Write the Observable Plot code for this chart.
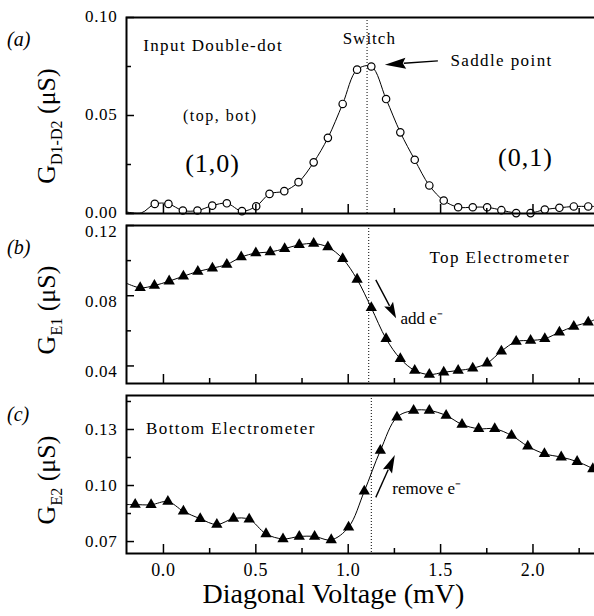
<!DOCTYPE html>
<html><head><meta charset="utf-8">
<script src="https://cdn.jsdelivr.net/npm/d3@7"></script>
<script src="https://cdn.jsdelivr.net/npm/@observablehq/plot@0.6"></script>
<style>
body{margin:0;background:#fff;}
#chart{width:594px;height:616px;position:relative;overflow:hidden;background:#fff;}
#chart svg{display:block;overflow:visible;}
</style></head><body><div id="chart"></div>
<script>
const FONT = '"Liberation Serif","Times New Roman",serif';

// ---------- data ----------
// (a) input double-dot conductance G_D1-D2 (uS)
const aX = [-0.047, 0.027, 0.105, 0.184, 0.264, 0.343, 0.425, 0.502, 0.574, 0.654, 0.731, 0.813, 0.890, 0.970, 1.048, 1.125, 1.205, 1.282, 1.360, 1.439, 1.517, 1.595, 1.674, 1.752, 1.829, 1.909, 1.987, 2.064, 2.143, 2.221, 2.299];
const aY = [0.0049, 0.0049, 0.0015, 0.0015, 0.0040, 0.0052, 0.0012, 0.0037, 0.0100, 0.0114, 0.0160, 0.0261, 0.0386, 0.0559, 0.0734, 0.0750, 0.0584, 0.0414, 0.0274, 0.0143, 0.0066, 0.0032, 0.0032, 0.0032, 0.0017, 0.0002, 0.0002, 0.0020, 0.0029, 0.0036, 0.0036];
const aLeadX = [-0.2, -0.12], aLeadY = [0.0008, 0.0003];
const aTailX = [2.333], aTailY = [0.0036];

// (b) top electrometer G_E1 (uS)
const bX = [-0.126, -0.049, 0.031, 0.108, 0.186, 0.265, 0.343, 0.421, 0.500, 0.578, 0.656, 0.735, 0.813, 0.890, 0.970, 1.048, 1.125, 1.205, 1.282, 1.360, 1.439, 1.517, 1.595, 1.674, 1.752, 1.829, 1.909, 1.987, 2.064, 2.143, 2.221, 2.299];
const bY = [0.0845, 0.0858, 0.0883, 0.0911, 0.0938, 0.0957, 0.0978, 0.1020, 0.1043, 0.1049, 0.1068, 0.1090, 0.1097, 0.1077, 0.1011, 0.0893, 0.0731, 0.0555, 0.0441, 0.0374, 0.0351, 0.0364, 0.0374, 0.0387, 0.0416, 0.0484, 0.0539, 0.0545, 0.0555, 0.0592, 0.0625, 0.0649];
const bLeadX = [-0.2], bLeadY = [0.0871];
const bTailX = [2.333], bTailY = [0.0663];

// (c) bottom electrometer G_E2 (uS)
const cX = [-0.153, -0.067, 0.024, 0.108, 0.199, 0.289, 0.379, 0.464, 0.555, 0.647, 0.735, 0.818, 0.908, 1.002, 1.087, 1.174, 1.264, 1.354, 1.439, 1.530, 1.616, 1.706, 1.793, 1.884, 1.972, 2.062, 2.153, 2.239, 2.324];
const cY = [0.0898, 0.0897, 0.0914, 0.0862, 0.0822, 0.0791, 0.0823, 0.0819, 0.0741, 0.0714, 0.0727, 0.0727, 0.0709, 0.0777, 0.0969, 0.1187, 0.1366, 0.1402, 0.1402, 0.1375, 0.1327, 0.1304, 0.1304, 0.1268, 0.1210, 0.1170, 0.1152, 0.1128, 0.1089];
const cLeadX = [-0.2], cLeadY = [0.0898];
const cTailX = [2.333], cTailY = [0.1080];

// switch (dotted line) position per panel
const switchA = [1.102], switchB = [1.111], switchC = [1.125];

// axes
const xDomain = [-0.2, 2.333];
const xMajor = [0, 0.5, 1, 1.5, 2];
const xMinor = [0.25, 0.75, 1.25, 1.75, 2.25];
const aYDomain = [0, 0.1], aYMajor = [0, 0.05, 0.1], aYMinor = [0.025, 0.075];
const bYDomain = [0.03, 0.12], bYMajor = [0.04, 0.08, 0.12], bYMinor = [0.06, 0.10];
const cYDomain = [0.0636, 0.1482], cYMajor = [0.07, 0.10, 0.13], cYMinor = [0.085, 0.115, 0.145];

// annotations
const annA = [
  {text: "Input Double-dot", x: -0.11, y: 0.0856, anchor: "start", size: 17, ls: 1.4},
  {text: "(top, bot)", x: 0.307, y: 0.0499, anchor: "middle", size: 16, ls: 1.5},
  {text: "(1,0)", x: 0.266, y: 0.0255, anchor: "middle", size: 26, ls: 1},
  {text: "Switch", x: 1.114, y: 0.0891, anchor: "middle", size: 17, ls: 1},
  {text: "Saddle point", x: 1.553, y: 0.0779, anchor: "start", size: 17, ls: 1.4},
  {text: "(0,1)", x: 1.959, y: 0.0285, anchor: "middle", size: 26, ls: 1}
];
const annB = [
  {text: "Top Electrometer", x: 1.44, y: 0.102, anchor: "start", size: 17, ls: 1.4},
  {text: "add e\u207B", x: 1.283, y: 0.067, anchor: "start", size: 17, ls: 0}
];
const annC = [
  {text: "Bottom Electrometer", x: -0.094, y: 0.1305, anchor: "start", size: 17, ls: 1.4},
  {text: "remove e\u207B", x: 1.239, y: 0.0984, anchor: "start", size: 17, ls: 0}
];
const arrowA = [{x1: 1.488, y1: 0.0776, x2: 1.201, y2: 0.0757, hl: 21, hw: 11}];
const arrowB = [{x1: 1.152, y1: 0.0887, x2: 1.262, y2: 0.0669, hl: 16, hw: 10}];
const arrowC = [{x1: 1.152, y1: 0.0934, x2: 1.255, y2: 0.1161, hl: 18, hw: 10}];

// ---------- drawing ----------
const W = 594, ML = 126, MR = 0;
const toPts = (xs, ys) => xs.map((x, i) => ({x, y: ys[i]}));

function panel(o) {
  const innerH = o.height - o.mt - o.mb;
  const innerW = W - ML - MR;
  const pts = toPts(o.xs, o.ys);
  const line = [...toPts(o.leadX, o.leadY), ...pts, ...toPts(o.tailX, o.tailY)];
  const dot = o.circles
    ? Plot.dot(pts, {x: "x", y: "y", r: 3.7, stroke: "black", fill: "white", strokeWidth: 1.2})
    : Plot.dot(pts, {x: "x", y: "y", symbol: "triangle", r: 4.2, fill: "black", stroke: "none"});
  const marks = [
    Plot.ruleX(o.switchX, {x: d => d, stroke: "black", strokeWidth: 1, strokeDasharray: "1,2"}),
    Plot.line(line, {x: "x", y: "y", curve: "catmull-rom", stroke: "black", strokeWidth: 1}),
    dot,
    Plot.tickY(o.yMajor, {y: d => d, insetRight: innerW - 8, stroke: "black", strokeWidth: 1.5}),
    Plot.tickY(o.yMinor, {y: d => d, insetRight: innerW - 5, stroke: "black", strokeWidth: 1.5}),
    Plot.tickX(xMajor, {x: d => d, insetTop: innerH - 9, stroke: "black", strokeWidth: 1.5}),
    Plot.tickX(xMinor, {x: d => d, insetTop: innerH - 5, stroke: "black", strokeWidth: 1.5}),
    Plot.axisY(o.yMajor, {tickSize: 0, tickPadding: 9, dy: o.tickDy, tickFormat: d3.format(".2f"), fontSize: 17, label: null}),
    Plot.frame({stroke: "black", strokeWidth: 2, insetRight: -3}),
    ...o.ann.map(a => Plot.text([a], {x: "x", y: "y", text: "text", textAnchor: a.anchor, fontSize: a.size, fill: "black"}))
  ];
  if (o.xAxis) {
    marks.push(Plot.axisX(xMajor, {tickSize: 0, tickPadding: 10, tickFormat: d3.format(".1f"), fontSize: 18, label: null}));
    marks.push(Plot.text(["Diagonal Voltage (mV)"], {x: [0.92], text: d => d, frameAnchor: "bottom", dy: 49, fontSize: 28, fill: "black"}));
  }
  const plot = Plot.plot({
    width: W, height: o.height,
    marginLeft: ML, marginRight: MR, marginTop: o.mt, marginBottom: o.mb,
    x: {domain: xDomain, axis: null},
    y: {domain: o.yDomain, axis: null},
    style: {fontFamily: FONT, fontSize: "17px", color: "black", background: "transparent", overflow: "visible"},
    marks
  });
  const svg = d3.select(plot);
  // letter spacing for annotation and tick texts
  const spacing = new Map(o.ann.map(a => [a.text, a.ls]));
  svg.selectAll("text").each(function() {
    const t = this.textContent;
    if (spacing.has(t)) this.setAttribute("letter-spacing", spacing.get(t));
    else if (/^\d\.\d+$/.test(t)) this.setAttribute("letter-spacing", 0.7);
  });
  // arrows
  const sx = plot.scale("x"), sy = plot.scale("y");
  for (const a of o.arrows) {
    const x1 = sx.apply(a.x1), y1 = sy.apply(a.y1), x2 = sx.apply(a.x2), y2 = sy.apply(a.y2);
    const dx = x2 - x1, dy = y2 - y1, len = Math.hypot(dx, dy), ux = dx / len, uy = dy / len;
    const bx = x2 - ux * a.hl, by = y2 - uy * a.hl;
    const px = -uy * a.hw / 2, py = ux * a.hw / 2;
    svg.append("line").attr("x1", x1).attr("y1", y1).attr("x2", bx + ux * 2).attr("y2", by + uy * 2)
      .attr("stroke", "black").attr("stroke-width", 1.4);
    svg.append("path").attr("d", `M${x2},${y2}L${bx + px},${by + py}L${bx + ux * 3},${by + uy * 3}L${bx - px},${by - py}Z`).attr("fill", "black");
  }
  // y label with subscript
  const t = svg.append("text").attr("transform", `translate(55,${o.labelY}) rotate(-90)`)
    .attr("text-anchor", "middle").attr("font-family", FONT).attr("font-size", 26).attr("fill", "black");
  t.append("tspan").text("G");
  t.append("tspan").attr("font-size", 16).attr("dy", 7).text(o.sub);
  t.append("tspan").attr("dy", -7).text(" (\u03BCS)");
  // panel letter
  svg.append("text").attr("x", 7).attr("y", o.letterY).attr("text-anchor", "start").attr("font-family", FONT).attr("font-style", "italic")
    .attr("font-size", 20).attr("fill", "black").text(o.letter);
  return plot;
}

const chart = document.getElementById("chart");
chart.append(panel({height: 219, mt: 17, mb: 6, xs: aX, ys: aY, leadX: aLeadX, leadY: aLeadY, tailX: aTailX, tailY: aTailY,
  circles: true, switchX: switchA, yDomain: aYDomain, yMajor: aYMajor, yMinor: aYMinor, ann: annA, arrows: arrowA,
  labelY: 126, sub: "D1-D2", letter: "(a)", letterY: 46, xAxis: false, tickDy: -1}));
chart.append(panel({height: 170, mt: 6, mb: 6, xs: bX, ys: bY, leadX: bLeadX, leadY: bLeadY, tailX: bTailX, tailY: bTailY,
  circles: false, switchX: switchB, yDomain: bYDomain, yMajor: bYMajor, yMinor: bYMinor, ann: annB, arrows: arrowB,
  labelY: 91, sub: "E1", letter: "(b)", letterY: 35, xAxis: false, tickDy: 6}));
chart.append(panel({height: 227, mt: 6, mb: 63, xs: cX, ys: cY, leadX: cLeadX, leadY: cLeadY, tailX: cTailX, tailY: cTailY,
  circles: false, switchX: switchC, yDomain: cYDomain, yMajor: cYMajor, yMinor: cYMinor, ann: annC, arrows: arrowC,
  labelY: 91, sub: "E2", letter: "(c)", letterY: 32, xAxis: true, tickDy: 0}));
</script></body></html>
